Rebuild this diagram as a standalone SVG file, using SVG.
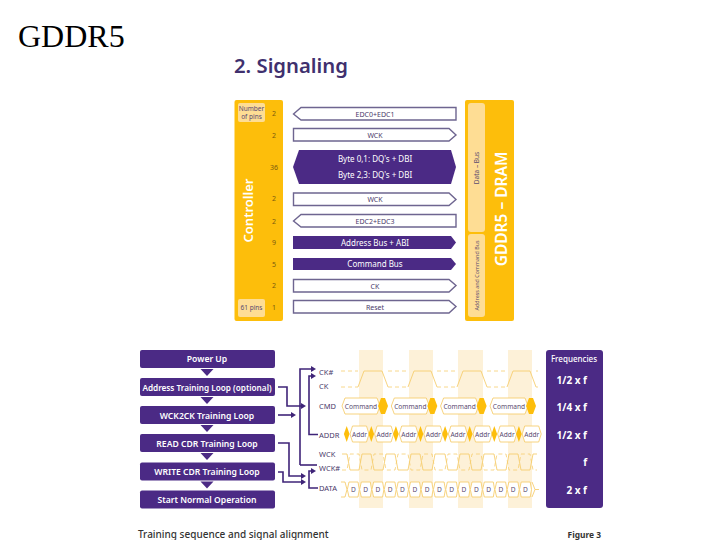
<svg xmlns="http://www.w3.org/2000/svg" xmlns:xlink="http://www.w3.org/1999/xlink" width="720" height="540" viewBox="0 0 720 540">
<style>
text{font-family:"Noto Sans","Open Sans","Liberation Sans",sans-serif;text-anchor:middle}
.amber{fill:#fdbe0b}
.pale{fill:#fedd94}
.band{fill:#fdf1d8}
.pur{fill:#4b2a85}
.out{fill:#fff;stroke:#6e6590;stroke-width:1.4}
.w{fill:#fff;font-size:8px}
.p{fill:#4a3a6a;font-size:7px}
.pin{fill:#7a5a10;font-size:7px}
.sm{fill:#5a4a70;font-size:6.5px}
.flow{fill:#fff;font-size:8.6px;font-weight:600}
.sig{fill:#4a3a6a;font-size:7.5px;text-anchor:start}
.cell{fill:#fff;stroke:#f6ce70;stroke-width:.9}
.wave{fill:none;stroke:#f6ce70;stroke-width:.9}
.dash{fill:none;stroke:#f6ce70;stroke-width:.8;stroke-dasharray:4 3}
.lbl{fill:#5a4a70;font-size:6.6px}
.f{fill:#fff;font-size:10px;font-weight:700;text-anchor:end}
.con{fill:none;stroke:#3f2478;stroke-width:1.6}
</style>
<defs>
<marker id="ah" markerWidth="5" markerHeight="6" refX="1" refY="3" orient="auto" markerUnits="userSpaceOnUse"><path d="M0 0L5 3L0 6Z" fill="#3f2478"/></marker>
<path id="tri" d="M-6.500 0H6.500L0 7Z" fill="#4b2a85"/>
<polygon id="cmd" points="342,406 345,398 377,398 380,406 377,414 345,414" class="cell"/>
<polygon id="cmy" points="378,406 381,398 385,398 388,406 385,414 381,414" class="amber"/>
<polygon id="adr" points="350,434 352.500,426 366.500,426 369,434 366.500,442 352.500,442" class="cell"/>
<polygon id="ady" points="346.700,426 349.500,434 346.700,442 343.900,434" class="amber"/>
<polygon id="dc" points="347.300,489.500 349,482 358,482 359.300,489.500 358,497 349,497" class="cell"/>
</defs>

<text x="18" y="47" style="font-family:'Liberation Serif',serif;font-size:32px;text-anchor:start;fill:#000">GDDR5</text>
<text x="234" y="73" style="font-size:20.300px;font-weight:600;fill:#40306e;text-anchor:start">2. Signaling</text>

<g id="controller">
<rect x="234.500" y="100" width="48.500" height="221" rx="2" class="amber"/>
<rect x="238" y="103" width="27" height="19" rx="2" class="pale"/>
<text x="251.500" y="111" class="sm">Number</text>
<text x="251.500" y="118.500" class="sm">of pins</text>
<rect x="238" y="299" width="27" height="18" rx="2" class="pale"/>
<text x="251.500" y="310" class="sm">61 pins</text>
<text transform="translate(253 210.500) rotate(-90)" style="font-size:13px;font-weight:600;fill:#fff">Controller</text>
<g class="pin">
<text x="274" y="116" class="pin">2</text>
<text x="274" y="138" class="pin">2</text>
<text x="274" y="170" class="pin">36</text>
<text x="274" y="201" class="pin">2</text>
<text x="274" y="224" class="pin">2</text>
<text x="274" y="245" class="pin">9</text>
<text x="274" y="267" class="pin">5</text>
<text x="274" y="288" class="pin">2</text>
<text x="274" y="310" class="pin">1</text>
</g>
</g>

<g id="dram">
<rect x="465" y="100" width="49" height="221" rx="2" class="amber"/>
<rect x="468" y="103" width="17" height="129" rx="3" class="pale"/>
<rect x="468" y="234" width="17" height="83" rx="3" class="pale"/>
<text transform="translate(479 168) rotate(-90)" class="sm">Data – Bus</text>
<text transform="translate(479 275.500) rotate(-90)" class="sm" style="font-size:5.400px">Address and Command Bus</text>
<text transform="translate(507 209) rotate(-90)" style="font-size:15.500px;font-weight:600;fill:#fff">GDDR5 – DRAM</text>
</g>

<g id="bus-edc01"><polygon points="293.500,114 301,107.500 456,107.500 456,120 301,120" class="out"/><text x="375" y="117" class="p">EDC0+EDC1</text></g>
<g id="bus-wck1"><polygon points="293.500,128.500 449,128.500 456,135 449,141 293.500,141" class="out"/><text x="375" y="138" class="p">WCK</text></g>
<g id="bus-byte"><polygon points="293,167 299,150 451,150 456,167 451,184 299,184" class="pur"/><text x="375" y="162" class="w">Byte 0,1: DQ's + DBI</text><text x="375" y="178" class="w">Byte 2,3: DQ's + DBI</text></g>
<g id="bus-wck2"><polygon points="293.500,193 449,193 456,199.500 449,205.500 293.500,205.500" class="out"/><text x="375" y="202" class="p">WCK</text></g>
<g id="bus-edc23"><polygon points="293.500,221 301,214.500 456,214.500 456,227 301,227" class="out"/><text x="375" y="224" class="p">EDC2+EDC3</text></g>
<g id="bus-addr"><polygon points="293,236 451,236 456,242.500 451,249 293,249" class="pur"/><text x="375" y="245.500" class="w">Address Bus + ABI</text></g>
<g id="bus-cmd"><polygon points="293,258 451,258 456,264 451,270 293,270" class="pur"/><text x="375" y="267" class="w">Command Bus</text></g>
<g id="bus-ck"><polygon points="293.500,279.500 449,279.500 456,285.500 449,292 293.500,292" class="out"/><text x="375" y="288.500" class="p">CK</text></g>
<g id="bus-reset"><polygon points="293.500,300.500 449,300.500 456,306.500 449,313 293.500,313" class="out"/><text x="375" y="310" class="p">Reset</text></g>

<g id="flow-power"><rect x="140" y="350" width="135" height="18" rx="2" class="pur"/><text x="207" y="362" class="flow">Power Up</text><use xlink:href="#tri" href="#tri" x="207" y="369"/></g>
<g id="flow-address"><rect x="140" y="378" width="135" height="18" rx="2" class="pur"/><text x="207" y="390.500" class="flow" style="font-size:8.200px">Address Training Loop (optional)</text><use xlink:href="#tri" href="#tri" x="207" y="397"/></g>
<g id="flow-wck"><rect x="140" y="406" width="135" height="18" rx="2" class="pur"/><text x="207" y="418.500" class="flow">WCK2CK Training Loop</text><use xlink:href="#tri" href="#tri" x="207" y="425"/></g>
<g id="flow-read"><rect x="140" y="434" width="135" height="18" rx="2" class="pur"/><text x="207" y="446.500" class="flow">READ CDR Training Loop</text><use xlink:href="#tri" href="#tri" x="207" y="453"/></g>
<g id="flow-write"><rect x="140" y="462.500" width="135" height="18" rx="2" class="pur"/><text x="207" y="475" class="flow">WRITE CDR Training Loop</text><use xlink:href="#tri" href="#tri" x="207" y="481.500"/></g>
<g id="flow-start"><rect x="140" y="490.500" width="135" height="18" rx="2" class="pur"/><text x="207" y="503" class="flow">Start Normal Operation</text></g>

<g id="connectors">
<path class="con" marker-end="url(#ah)" d="M278 387H287V406H302"/>
<path class="con" marker-end="url(#ah)" d="M278 415H292"/>
<path class="con" marker-end="url(#ah)" d="M278 443H289V476H302"/>
<path class="con" marker-end="url(#ah)" d="M278 472H283V482H302"/>
<path class="con" marker-end="url(#ah)" d="M300 465V369H312"/>
<path class="con" d="M300 465H317"/>
<path class="con" marker-end="url(#ah)" d="M318 434.500H309V376H312"/>
<path class="con" marker-end="url(#ah)" d="M318 488H309V471H312"/>
</g>

<g id="signals">
<rect x="359" y="350" width="24" height="158" class="band"/>
<rect x="409" y="350" width="24" height="158" class="band"/>
<rect x="458" y="350" width="25" height="158" class="band"/>
<rect x="508" y="350" width="24" height="158" class="band"/>

<text x="319" y="375" class="sig">CK#</text>
<text x="319" y="389" class="sig">CK</text>
<text x="319" y="409" class="sig">CMD</text>
<text x="319" y="437.500" class="sig">ADDR</text>
<text x="319" y="457" class="sig">WCK</text>
<text x="319" y="471" class="sig">WCK#</text>
<text x="319" y="491" class="sig">DATA</text>

<path class="dash" d="M341 371H358M388 371H408M437 371H457M487 371H507M341 387H358M388 387H408M437 387H457M487 387H507M536 371H538M536 387H538"/>
<path class="wave" d="M358 387L364 371H382L388 387M408 387L414 371H431L437 387M457 387L463 371H481L487 387M507 387L513 371H530L536 387"/>

<use xlink:href="#cmd" href="#cmd"/><use xlink:href="#cmy" href="#cmy"/>
<use xlink:href="#cmd" href="#cmd" x="49.300"/><use xlink:href="#cmy" href="#cmy" x="49.300"/>
<use xlink:href="#cmd" href="#cmd" x="98.600"/><use xlink:href="#cmy" href="#cmy" x="98.600"/>
<use xlink:href="#cmd" href="#cmd" x="148"/><use xlink:href="#cmy" href="#cmy" x="148"/>
<text x="361" y="408.500" class="lbl">Command</text>
<text x="410.300" y="408.500" class="lbl">Command</text>
<text x="459.600" y="408.500" class="lbl">Command</text>
<text x="509" y="408.500" class="lbl">Command</text>

<use xlink:href="#adr" href="#adr"/><use xlink:href="#ady" href="#ady"/>
<use xlink:href="#adr" href="#adr" x="24.600"/><use xlink:href="#ady" href="#ady" x="24.600"/>
<use xlink:href="#adr" href="#adr" x="49.200"/><use xlink:href="#ady" href="#ady" x="49.200"/>
<use xlink:href="#adr" href="#adr" x="73.800"/><use xlink:href="#ady" href="#ady" x="73.800"/>
<use xlink:href="#adr" href="#adr" x="98.400"/><use xlink:href="#ady" href="#ady" x="98.400"/>
<use xlink:href="#adr" href="#adr" x="123"/><use xlink:href="#ady" href="#ady" x="123"/>
<use xlink:href="#adr" href="#adr" x="147.600"/><use xlink:href="#ady" href="#ady" x="147.600"/>
<use xlink:href="#adr" href="#adr" x="172.200"/><use xlink:href="#ady" href="#ady" x="172.200"/>
<text x="359.500" y="436.500" class="lbl">Addr</text>
<text x="384.100" y="436.500" class="lbl">Addr</text>
<text x="408.700" y="436.500" class="lbl">Addr</text>
<text x="433.300" y="436.500" class="lbl">Addr</text>
<text x="457.900" y="436.500" class="lbl">Addr</text>
<text x="482.500" y="436.500" class="lbl">Addr</text>
<text x="507.100" y="436.500" class="lbl">Addr</text>
<text x="531.700" y="436.500" class="lbl">Addr</text>

<path class="wave" d="M342 454H347L350 470H359L362 454H371L374 470H383L386 454H395L398 470H408L411 454H420L423 470H432L435 454H445L448 470H457L460 454H469L472 470H481L484 454H494L497 470H506L509 454H518L521 470H530L533 454H537"/>
<path class="dash" d="M342 470H347L350 454H359L362 470H371L374 454H383L386 470H395L398 454H408L411 470H420L423 454H432L435 470H445L448 454H457L460 470H469L472 454H481L484 470H494L497 454H506L509 470H518L521 454H530L533 470H537"/>

<path class="wave" d="M341 482H345L347 489.500L345 497H341"/>
<path class="wave" d="M532 482L535 489.500L532 497M535 489.500H539"/>
<use xlink:href="#dc" href="#dc"/>
<use xlink:href="#dc" href="#dc" x="12.300"/>
<use xlink:href="#dc" href="#dc" x="24.600"/>
<use xlink:href="#dc" href="#dc" x="36.900"/>
<use xlink:href="#dc" href="#dc" x="49.200"/>
<use xlink:href="#dc" href="#dc" x="61.500"/>
<use xlink:href="#dc" href="#dc" x="73.800"/>
<use xlink:href="#dc" href="#dc" x="86.100"/>
<use xlink:href="#dc" href="#dc" x="98.400"/>
<use xlink:href="#dc" href="#dc" x="110.700"/>
<use xlink:href="#dc" href="#dc" x="123"/>
<use xlink:href="#dc" href="#dc" x="135.300"/>
<use xlink:href="#dc" href="#dc" x="147.600"/>
<use xlink:href="#dc" href="#dc" x="159.900"/>
<use xlink:href="#dc" href="#dc" x="172.200"/>
<text x="353.300" y="492" class="lbl">D</text>
<text x="365.600" y="492" class="lbl">D</text>
<text x="377.900" y="492" class="lbl">D</text>
<text x="390.200" y="492" class="lbl">D</text>
<text x="402.500" y="492" class="lbl">D</text>
<text x="414.800" y="492" class="lbl">D</text>
<text x="427.100" y="492" class="lbl">D</text>
<text x="439.400" y="492" class="lbl">D</text>
<text x="451.700" y="492" class="lbl">D</text>
<text x="464" y="492" class="lbl">D</text>
<text x="476.300" y="492" class="lbl">D</text>
<text x="488.600" y="492" class="lbl">D</text>
<text x="500.900" y="492" class="lbl">D</text>
<text x="513.200" y="492" class="lbl">D</text>
<text x="525.500" y="492" class="lbl">D</text>
</g>

<g id="frequencies">
<rect x="546" y="350" width="57" height="158" rx="3" class="pur"/>
<text x="574" y="362" style="fill:#fff;font-size:8px;font-weight:500">Frequencies</text>
<text x="587" y="383.500" class="f">1/2 x f</text>
<text x="587" y="411" class="f">1/4 x f</text>
<text x="587" y="438.500" class="f">1/2 x f</text>
<text x="587" y="466" class="f">f</text>
<text x="587" y="494" class="f">2 x f</text>
</g>

<text x="138" y="538" style="font-size:10px;font-weight:500;fill:#333;text-anchor:start">Training sequence and signal alignment</text>
<text x="601" y="538" style="font-size:8.400px;font-weight:700;fill:#333;text-anchor:end">Figure 3</text>
</svg>
